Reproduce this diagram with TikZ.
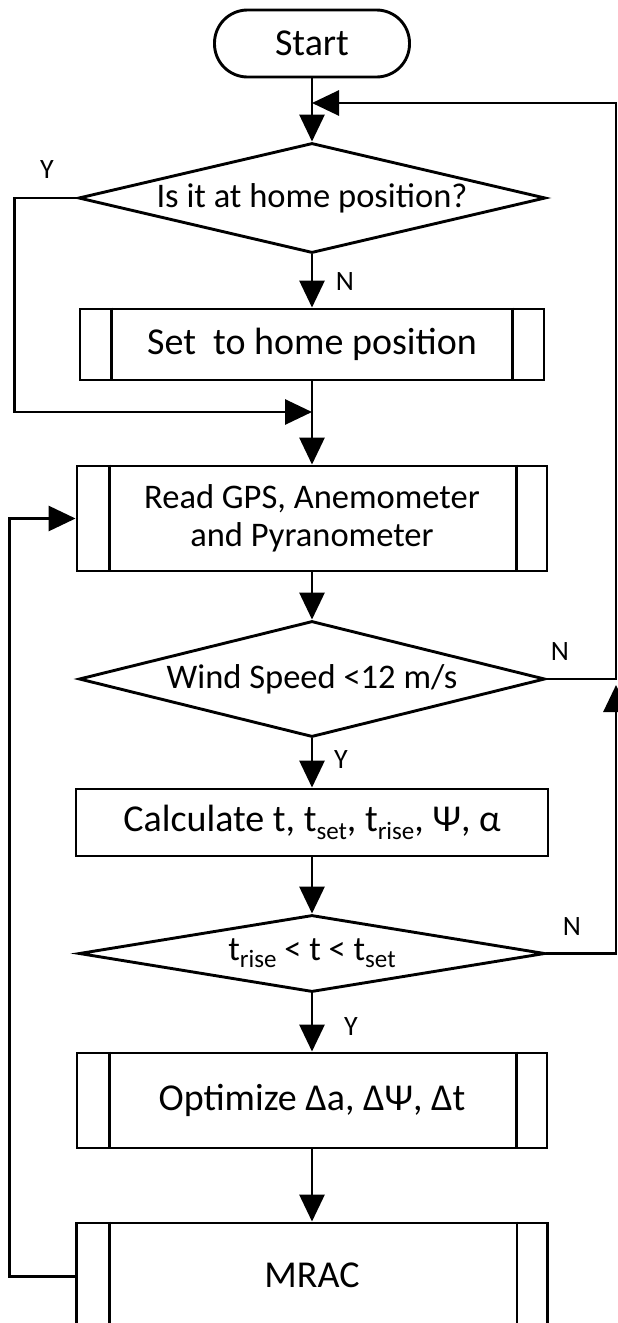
\documentclass[tikz,border=0pt]{standalone}
\usepackage{fontspec}
\setmainfont{Carlito}
\usetikzlibrary{shapes.geometric,arrows.meta}
\newcommand\lowtext[1]{\raisebox{-0.2em}{\fontsize{25}{25}\selectfont #1}}
\begin{document}
\begin{tikzpicture}[x=1pt,y=-1pt,
  line/.style={line width=2.9pt, line join=miter},
  arr/.style={line, -{Triangle[length=27pt,width=25pt]}},
  box/.style={draw, line width=2.9pt, rectangle, inner sep=0pt, align=center, font=\fontsize{38}{44}\selectfont},
  term/.style={box, rounded corners=33pt, minimum width=195pt, minimum height=67pt},
  dec/.style={draw, line width=2.9pt, diamond, inner sep=0pt, aspect=4, font=\fontsize{34.5}{38}\selectfont},
  lbl/.style={font=\fontsize{28}{30}\selectfont, inner sep=0pt}
]
\useasboundingbox (0,0) rectangle (618,1323);
\fill[white] (0,0) rectangle (618,1323);
\clip (0,0) rectangle (618,1323);

% nodes
\node[term] (start) at (312,43.5) {Start};
\node[dec, minimum width=467pt, minimum height=110pt] (d1) at (312,198) {Is it at home position?};
\node[box, minimum width=464pt, minimum height=71pt] (set) at (312,344.5) {Set\ \ to home position};
\node[box, minimum width=470pt, minimum height=105pt, font=\fontsize{34.5}{38}\selectfont] (read) at (312,518.5) {Read GPS, Anemometer\\and Pyranometer};
\node[dec, minimum width=466pt, minimum height=116pt] (d2) at (312,679) {Wind Speed <12 m/s};
\node[box, minimum width=472pt, minimum height=67pt] (calc) at (312,822.5) {Calculate t, t\lowtext{set}, t\lowtext{rise}, Ψ, α};
\node[dec, minimum width=466pt, minimum height=77pt] (d3) at (312,953.5) {t\lowtext{rise} < t < t\lowtext{set}};
\node[box, minimum width=470pt, minimum height=95pt] (opt) at (312,1100.5) {Optimize Δa, ΔΨ, Δt};
\node[box, minimum width=471pt, minimum height=107pt] (mrac) at (312,1276.5) {\raisebox{3pt}{MRAC}};

% subroutine bars
\draw[line] ([xshift=33pt]set.north west) -- ([xshift=33pt]set.south west);
\draw[line] ([xshift=-33pt]set.north east) -- ([xshift=-33pt]set.south east);
\foreach \n in {read,opt,mrac}{
  \draw[line] ([xshift=34pt]\n.north west) -- ([xshift=34pt]\n.south west);
  \draw[line] ([xshift=-32pt]\n.north east) -- ([xshift=-32pt]\n.south east);
}

% junction coordinates
\coordinate (j1) at (312,103);
\coordinate (m1) at (312,412);
\coordinate (j2) at (616,679);

% connectors
\draw[arr] (start.south) -- (d1.north);
\draw[arr] (d1.south) -- (set.north);
\draw[arr] (d1.west) -- ++(-63,0) |- (m1);
\draw[line] (set.south) -- (m1);
\draw[arr] (m1) -- (read.north);
\draw[arr] (read.south) -- (d2.north);
\draw[arr] (d2.east) -- (j2) |- (j1);
\draw[arr] (d2.south) -- (calc.north);
\draw[arr] (calc.south) -- (d3.north);
\draw[arr, shorten >=6pt] (d3.east) -| (j2);
\draw[arr] (d3.south) -- (opt.north);
\draw[arr] (opt.south) -- (mrac.north);
\draw[arr] (mrac.west) -- ++(-66,0) |- (read.west);

% labels
\node[lbl] (y1) at (47,170) {Y};
\node[lbl] (n1) at (345,282) {N};
\node[lbl] (n2) at (560,652) {N};
\node[lbl] (y2) at (341,760) {Y};
\node[lbl] (n3) at (572,927) {N};
\node[lbl] (y3) at (351,1027) {Y};
\end{tikzpicture}
\end{document}
